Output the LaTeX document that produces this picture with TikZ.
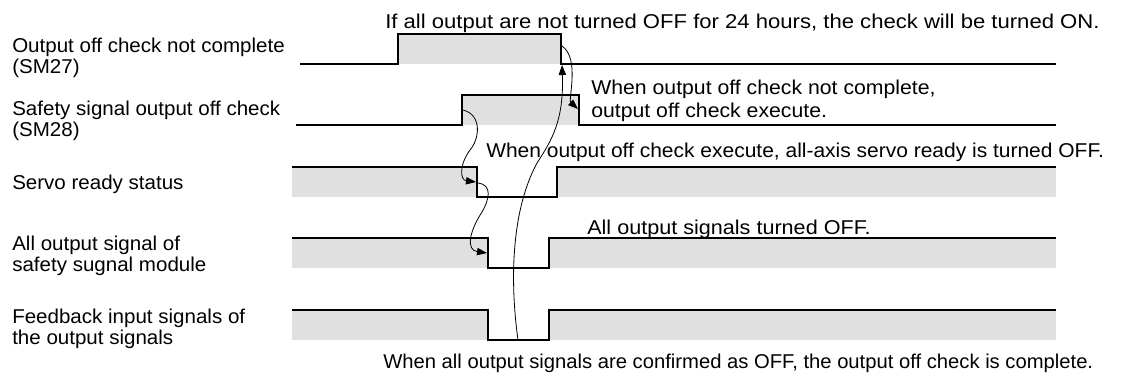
\documentclass[tikz,border=0pt]{standalone}
\usepackage{fontspec}
\usepackage{graphicx}
\setmainfont{Liberation Sans}
\usetikzlibrary{arrows.meta}
\definecolor{sigfill}{RGB}{224,224,224}
\newcommand{\hs}[2]{\scalebox{#1}[1]{#2}}
\begin{document}
\begin{tikzpicture}[x=0.75pt,y=-0.75pt,
  sig/.style={line width=1.9pt, line join=miter},
  cause/.style={line width=0.6pt, -{Triangle[length=7.5pt,width=5.5pt]}},
  lbl/.style={anchor=base west, inner sep=0pt, font=\fontsize{15}{15.75}\selectfont},
  note/.style={anchor=base west, inner sep=0pt, font=\fontsize{15}{17.25}\selectfont}]
\useasboundingbox (0,0) rectangle (1125,376);

% labels
\node[lbl] (l1) at (12,52) {\hs{1.027}{\begin{tabular}[t]{@{}l@{}}Output off check not complete\\(SM27)\end{tabular}}};
\node[lbl] (l2) at (12,115) {\hs{1.027}{\begin{tabular}[t]{@{}l@{}}Safety signal output off check\\(SM28)\end{tabular}}};
\node[lbl] (l3) at (12,189) {\hs{1.027}{Servo ready status}};
\node[lbl] (l4) at (12,250) {\hs{1.027}{\begin{tabular}[t]{@{}l@{}}All output signal of\\safety sugnal module\end{tabular}}};
\node[lbl] (l5) at (12,323) {\hs{1.027}{\begin{tabular}[t]{@{}l@{}}Feedback input signals of\\the output signals\end{tabular}}};

% gray fills
\fill[sigfill] (398,34) rectangle (561,64);
\fill[sigfill] (462,95) rectangle (579,125);
\fill[sigfill] (292,167) rectangle (477,197);
\fill[sigfill] (557,167) rectangle (1056,197);
\fill[sigfill] (292,238) rectangle (488,268);
\fill[sigfill] (549,238) rectangle (1056,268);
\fill[sigfill] (292,310) rectangle (488,340);
\fill[sigfill] (549,310) rectangle (1056,340);

% signal lines
\draw[sig] (300,64) -- (398,64) -- (398,34) -- (561,34) -- (561,64) -- (1056,64);
\draw[sig] (296,125) -- (462,125) -- (462,95) -- (579,95) -- (579,125) -- (1056,125);
\draw[sig] (292,167) -- (477,167) -- (477,197) -- (557,197) -- (557,167) -- (1056,167);
\draw[sig] (292,238) -- (488,238) -- (488,268) -- (549,268) -- (549,238) -- (1056,238);
\draw[sig] (292,310) -- (488,310) -- (488,340) -- (549,340) -- (549,310) -- (1056,310);

% edge points
\coordinate (a1) at (562,46);
\coordinate (a2) at (578,109);
\coordinate (b1) at (518,340);
\coordinate (b2) at (562,65);
\coordinate (c1) at (463,110);
\coordinate (c2) at (476,182);
\coordinate (d1) at (478,183);
\coordinate (d2) at (487,253);

% cause arrows
\draw[cause] (a1) .. controls (580,58) and (568,100) .. (a2);
\draw[cause] (b1) .. controls (511,290) and (509,215) .. (537,163) .. controls (552,140) and (564,120) .. (b2);
\draw[cause] (c1) .. controls (483,115) and (479,140) .. (470,150) .. controls (459,165) and (460,180) .. (c2);
\draw[cause] (d1) .. controls (493,185) and (489,200) .. (482,212) .. controls (469,232) and (466,250) .. (d2);

% notes
\node[note] (t1) at (385,28) {\hs{1.104}{If all output are not turned OFF for 24 hours, the check will be turned ON.}};
\node[note] (t2) at (591,94) {\hs{1.062}{\begin{tabular}[t]{@{}l@{}}When output off check not complete,\\output off check execute.\end{tabular}}};
\node[note] (t3) at (486,157) {\hs{1.049}{When output off check execute, all-axis servo ready is turned OFF.}};
\node[note] (t4) at (587,234) {\hs{1.08}{All output signals turned OFF.}};
\node[note] (t5) at (383,368) {\hs{1.011}{When all output signals are confirmed as OFF, the output off check is complete.}};
\end{tikzpicture}
\end{document}
